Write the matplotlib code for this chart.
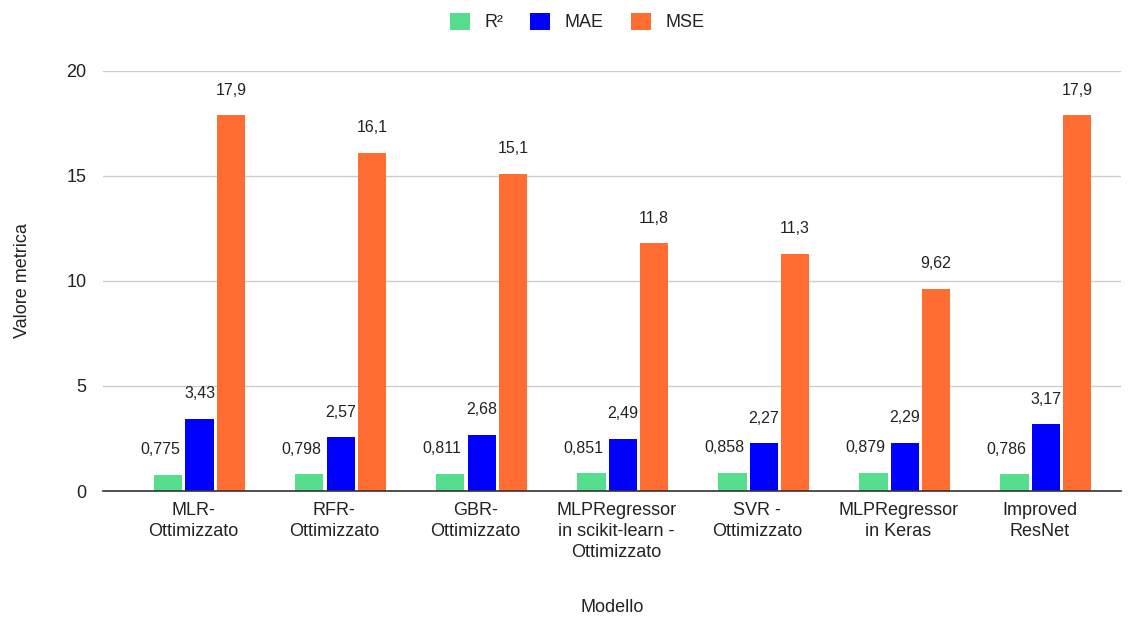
import numpy as np
import matplotlib.pyplot as plt

plt.rcParams['font.family'] = ['Liberation Sans', 'DejaVu Sans']

models = ['MLR-\nOttimizzato', 'RFR-\nOttimizzato', 'GBR-\nOttimizzato',
          'MLPRegressor\nin scikit-learn -\nOttimizzato', 'SVR -\nOttimizzato',
          'MLPRegressor\nin Keras', 'Improved\nResNet']
r2 = [0.775, 0.798, 0.811, 0.851, 0.858, 0.879, 0.786]
mae = [3.43, 2.57, 2.68, 2.49, 2.27, 2.29, 3.17]
mse = [17.9, 16.1, 15.1, 11.8, 11.3, 9.62, 17.9]
r2_lbl = ['0,775', '0,798', '0,811', '0,851', '0,858', '0,879', '0,786']
mae_lbl = ['3,43', '2,57', '2,68', '2,49', '2,27', '2,29', '3,17']
mse_lbl = ['17,9', '16,1', '15,1', '11,8', '11,3', '9,62', '17,9']

series = [('R²', r2, r2_lbl, '#57dd8e'),
          ('MAE', mae, mae_lbl, '#0000ff'),
          ('MSE', mse, mse_lbl, '#ff6d33')]

txt = '#222222'
fig = plt.figure(figsize=(11.34, 6.22), dpi=100)
ax = fig.add_axes([0.0908, 0.2106, 0.898, 0.6753])

x = np.arange(len(models))
w = 0.2
step = 0.222
for i, (name, vals, lbls, col) in enumerate(series):
    xs = x + (i - 1) * step + 0.045
    ax.bar(xs, vals, width=w, color=col, label=name, zorder=3)
    dx = -6 if i == 0 else 0
    for xi, v, s in zip(xs, vals, lbls):
        ax.annotate(s, (xi, v), xytext=(dx, 18), textcoords='offset points',
                    ha='center', va='center', fontsize=11.5, color=txt)

ax.set_ylim(0, 20)
ax.set_xlim(-0.64, 6.58)
ax.set_yticks([0, 5, 10, 15, 20])
ax.set_xticks(x)
ax.set_xticklabels(models, fontsize=13, color=txt, va='top', linespacing=1.3)
ax.tick_params(axis='y', length=0, pad=12, labelsize=13, labelcolor=txt)
ax.tick_params(axis='x', length=0, pad=8)
ax.grid(axis='y', color='#cccccc', linewidth=1, zorder=0)
for sp in ['top', 'right', 'left']:
    ax.spines[sp].set_visible(False)
ax.spines['bottom'].set_color('#333333')
ax.spines['bottom'].set_linewidth(1.2)
ax.spines['bottom'].set_zorder(4)

ax.set_ylabel('Valore metrica', fontsize=13, color=txt)
ax.yaxis.set_label_coords(-0.071, 0.5)
fig.text(0.5 * (0.0908 + 0.9888), 1 - 608 / 622, 'Modello', ha='center',
         va='center', fontsize=13, color=txt)

leg = ax.legend(loc='center', bbox_to_anchor=(0.5 + 10 / 1134, 1 - 22 / 622),
                bbox_transform=fig.transFigure,
                ncol=3, frameon=False, fontsize=13, handlelength=1.1, handleheight=1.1,
                columnspacing=1.5, handletextpad=0.8)
for t in leg.get_texts():
    t.set_color(txt)

fig.savefig('out.png', dpi=100)
